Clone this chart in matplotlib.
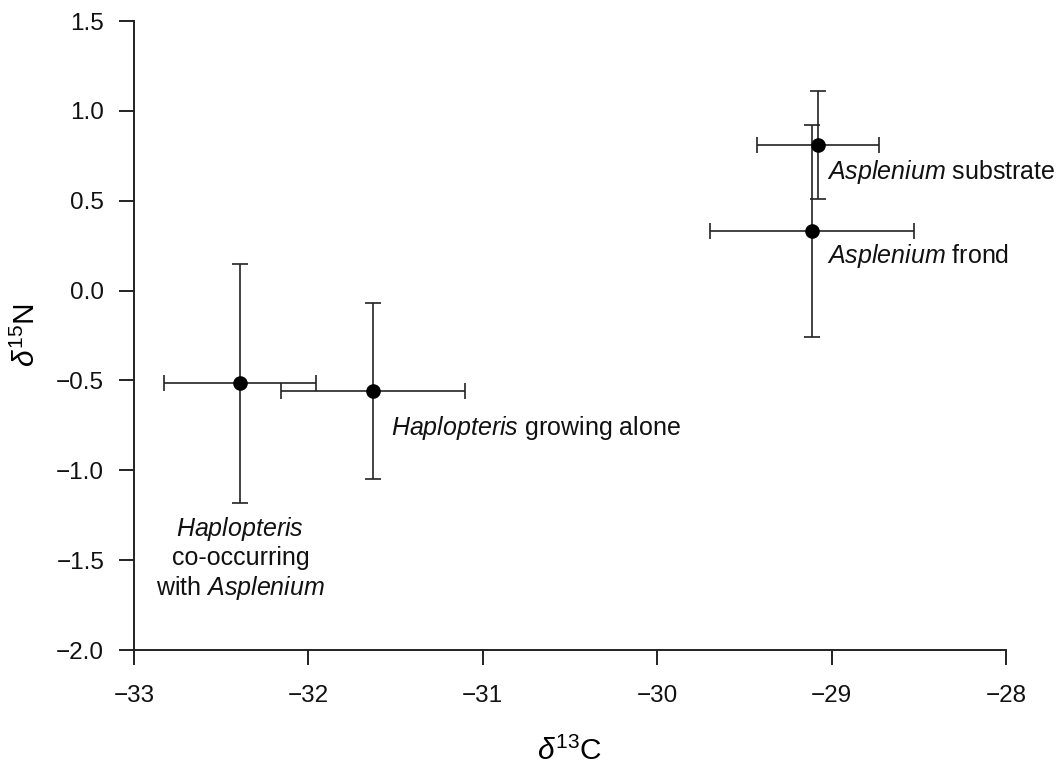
import numpy as np
import matplotlib
matplotlib.use("Agg")
import matplotlib.pyplot as plt

plt.rcParams["font.family"] = ["Liberation Sans", "DejaVu Sans"]
plt.rcParams["mathtext.fontset"] = "custom"
plt.rcParams["mathtext.rm"] = "Liberation Sans"
plt.rcParams["mathtext.it"] = "Liberation Sans:italic"

# group means and error bars (d13C, d15N)
groups = ["Haplopteris co-occurring", "Haplopteris alone", "Asplenium frond", "Asplenium substrate"]
d13C = [-32.39, -31.63, -29.11, -29.08]
d15N = [-0.515, -0.56, 0.33, 0.81]
d13C_err = [0.436, 0.53, 0.585, 0.35]
d15N_err = [0.665, 0.49, 0.59, 0.30]

# labels and where they sit
labels = [r"$\mathit{Haplopteris}$" + "\nco-occurring\nwith " + r"$\mathit{Asplenium}$",
          r"$\mathit{Haplopteris}$ growing alone",
          r"$\mathit{Asplenium}$ frond",
          r"$\mathit{Asplenium}$ substrate"]
label_x = [-32.39, -31.525, -29.025, -29.025]
label_y = [-1.49, -0.765, 0.19, 0.66]
label_ha = ["center", "left", "left", "left"]

fig = plt.figure(figsize=(10.63, 7.67), dpi=100)
ax = fig.add_axes([0.1261, 0.1525, 0.8203, 0.8201])

ax.errorbar(d13C, d15N, xerr=d13C_err, yerr=d15N_err, fmt="o", color="black",
            ecolor="#222222", elinewidth=1.2, capsize=5.5, capthick=1.2,
            markersize=9.5, clip_on=False)

for lab, lx, ly, ha in zip(labels, label_x, label_y, label_ha):
    ax.text(lx, ly, lab, ha=ha, va="center", fontsize=18, color="#111111",
            linespacing=1.18)

ax.set_xlim(-33, -28)
ax.set_ylim(-2.0, 1.5)
ax.set_xticks(np.arange(-33, -27, 1))
ax.set_yticks(np.arange(-2.0, 1.51, 0.5))
ax.set_yticklabels([f"{v:.1f}".replace("-", "\u2212") for v in np.arange(-2.0, 1.51, 0.5)])
ax.set_xticklabels([f"{v:d}".replace("-", "\u2212") for v in range(-33, -27)])

ax.spines["top"].set_visible(False)
ax.spines["right"].set_visible(False)
for s in ["left", "bottom"]:
    ax.spines[s].set_linewidth(1.4)
    ax.spines[s].set_color("#222222")

ax.tick_params(axis="both", direction="out", length=10.5, width=1.4, color="#222222",
               labelsize=17.5, labelcolor="#111111")
ax.tick_params(axis="x", pad=15)
ax.tick_params(axis="y", pad=11)

ax.set_xlabel(r"$\delta^{13}$C", fontsize=21.5, labelpad=21)
ax.set_ylabel(r"$\delta^{15}$N", fontsize=21.5, labelpad=11)

fig.savefig("out.png", dpi=100)
